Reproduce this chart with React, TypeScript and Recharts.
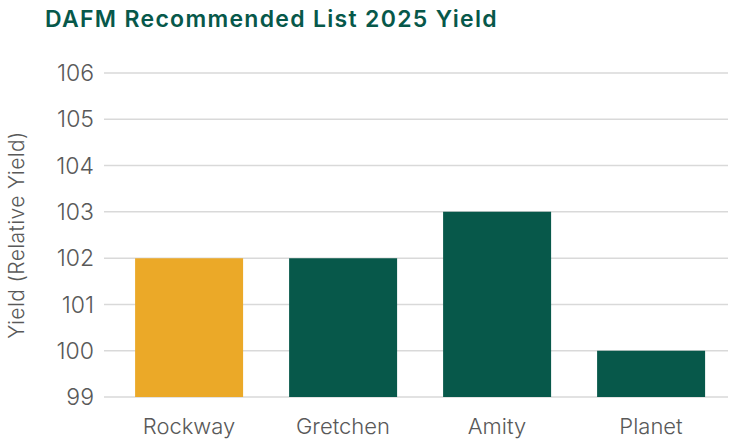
import { Bar, BarChart, CartesianGrid, Cell, XAxis, YAxis } from "recharts";

const varieties = ["Rockway", "Gretchen", "Amity", "Planet"];
const relativeYield = [102, 102, 103, 100];
const highlighted = ["Rockway"];
const yTicks = [99, 100, 101, 102, 103, 104, 105, 106];

const GREEN = "#07584A";
const GOLD = "#EBA928";
const FONT = "Inter, 'Noto Sans', sans-serif";

const data = varieties.map((name, i) => ({ name, value: relativeYield[i] }));

export default function App() {
  return (
    <div style={{ position: "fixed", left: 0, top: 0, width: 737, height: 444, background: "#fff" }}>
      <div
        style={{
          position: "absolute",
          left: 45,
          top: 5,
          fontFamily: FONT,
          fontWeight: 600,
          fontSize: 23,
          letterSpacing: 1.3,
          color: GREEN,
          whiteSpace: "nowrap",
        }}
      >
        DAFM Recommended List 2025 Yield
      </div>
      <BarChart
        width={737}
        height={444}
        data={data}
        margin={{ top: 73, right: 9, bottom: 0, left: 0 }}
        barCategoryGap="15%"
      >
        <CartesianGrid vertical={false} stroke="#d9d9d9" strokeWidth={1.5} />
        <XAxis
          dataKey="name"
          height={47}
          axisLine={false}
          tickLine={false}
          tickSize={6}
          tickMargin={15}
          padding={{ left: 8, right: 0 }}
          tick={{ fontSize: 22, fill: "#595959", fontFamily: FONT, fontWeight: 300 }}
        />
        <YAxis
          domain={[99, 106]}
          ticks={yTicks}
          allowDataOverflow
          width={104}
          axisLine={false}
          tickLine={false}
          tickSize={6}
          tickMargin={4}
          tick={{ fontSize: 23, fill: "#595959", fontFamily: FONT, fontWeight: 300 }}
          label={{
            value: "Yield (Relative Yield)",
            angle: -90,
            position: "insideLeft",
            offset: 17,
            style: {
              textAnchor: "middle",
              fontSize: 21,
              letterSpacing: 0.4,
              fill: "#595959",
              fontFamily: FONT,
              fontWeight: 300,
            },
          }}
        />
        <Bar dataKey="value" isAnimationActive={false}>
          {data.map((d) => (
            <Cell key={d.name} fill={highlighted.includes(d.name) ? GOLD : GREEN} />
          ))}
        </Bar>
      </BarChart>
    </div>
  );
}
